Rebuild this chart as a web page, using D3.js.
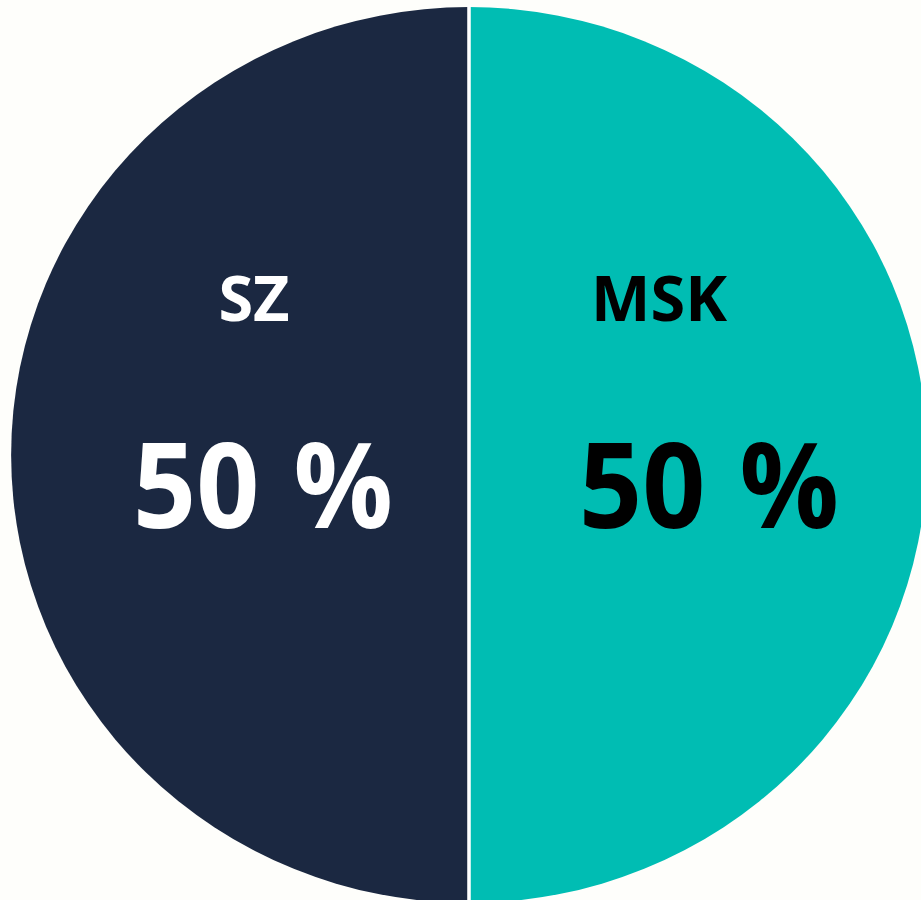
<!DOCTYPE html>
<html>
<head>
<meta charset="utf-8">
<script src="https://cdn.jsdelivr.net/npm/d3@7"></script>
<style>
  html, body { margin: 0; padding: 0; background: #fefefb; }
  svg { display: block; }
  text { font-family: "Open Sans", "Noto Sans", sans-serif; font-weight: 700; }
</style>
</head>
<body>
<div id="chart"></div>
<script>
// data
var categories = ['SZ', 'MSK'];
var shares = [50, 50];
var sliceColors = ['#1b2841', '#00bdb3'];
var textColors = ['#ffffff', '#000000'];

var width = 921, height = 900;
var cx = 469, cy = 455;
var radius = 452;

var svg = d3.select("#chart").append("svg")
    .attr("width", width)
    .attr("height", height);

svg.append("rect")
    .attr("width", width)
    .attr("height", height)
    .attr("fill", "#fefefb");

// the original is slightly wider than tall
var g = svg.append("g")
    .attr("transform", "translate(" + cx + "," + cy + ") scale(1.013,0.991)");

var data = categories.map(function(c, i) {
    return { name: c, value: shares[i], color: sliceColors[i], text: textColors[i] };
});

// start at 6 o'clock so SZ sits on the left half, MSK on the right
var pie = d3.pie()
    .sort(null)
    .value(function(d) { return d.value; })
    .startAngle(Math.PI)
    .endAngle(3 * Math.PI);

var arc = d3.arc()
    .innerRadius(0)
    .outerRadius(radius);

var arcs = pie(data);

g.selectAll("path")
    .data(arcs).enter()
    .append("path")
    .attr("d", arc)
    .attr("fill", function(d) { return d.data.color; });

// white divider between the two halves
g.append("line")
    .attr("x1", 0).attr("x2", 0)
    .attr("y1", -radius - 2).attr("y2", radius + 2)
    .attr("stroke", "#ffffff")
    .attr("stroke-width", 3.5);

// labels
var labelArc = d3.arc().innerRadius(215).outerRadius(215);
var nameShift = [0, -25];
var valueShift = [9, 25];

var labels = svg.append("g")
    .attr("transform", "translate(" + cx + "," + cy + ")");

labels.selectAll("text.name")
    .data(arcs).enter()
    .append("text")
    .attr("class", "name")
    .attr("text-anchor", "middle")
    .attr("x", function(d, i) { return labelArc.centroid(d)[0] + nameShift[i]; })
    .attr("y", -134)
    .attr("font-size", 63)
    .attr("fill", function(d) { return d.data.text; })
    .text(function(d) { return d.data.name; });

labels.selectAll("text.value")
    .data(arcs).enter()
    .append("text")
    .attr("class", "value")
    .attr("text-anchor", "middle")
    .attr("x", function(d, i) { return labelArc.centroid(d)[0] + valueShift[i]; })
    .attr("y", 73)
    .attr("font-size", 119)
    .style("word-spacing", "6px")
    .attr("textLength", 260)
    .attr("lengthAdjust", "spacingAndGlyphs")
    .attr("fill", function(d) { return d.data.text; })
    .text(function(d) { return d.data.value + " %"; });
</script>
</body>
</html>
